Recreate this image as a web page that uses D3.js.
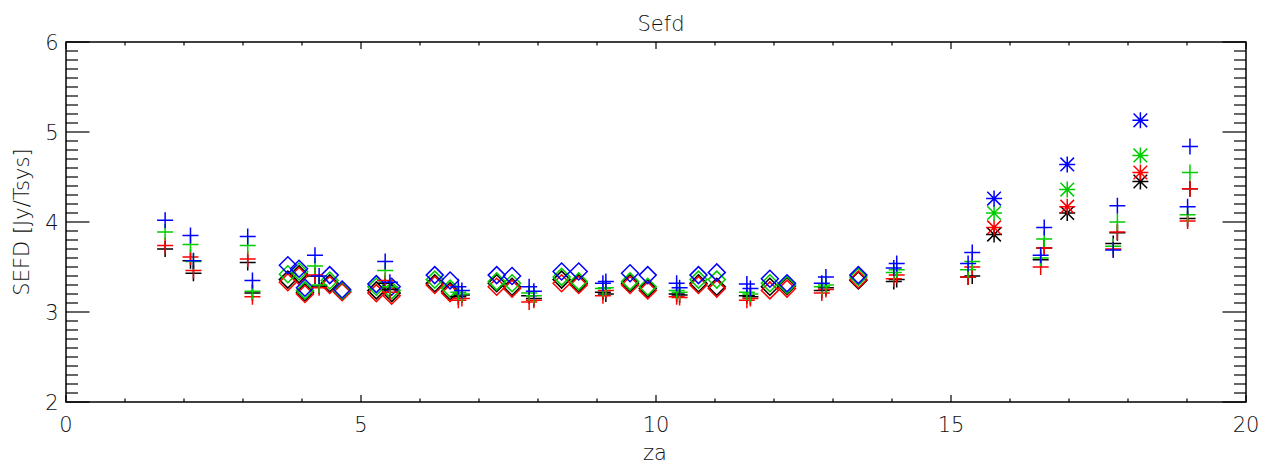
<!DOCTYPE html>
<meta charset="utf-8">
<style>
  body { margin: 0; background: #fff; }
  text { font-family: "DejaVu Sans", sans-serif; fill: #111; font-weight: 300; }
</style>
<svg width="1272" height="466"></svg>
<script src="https://d3js.org/d3.v7.min.js"></script>
<script>

// plus symbols (za, then one value per colour)
var plusZa    = [1.68, 2.11, 2.16, 3.08, 3.16, 4.22, 4.29, 5.41, 5.49, 6.65, 6.71, 7.85, 7.93, 9.10, 9.15, 10.35, 10.40, 11.54, 11.60, 12.81, 12.88, 14.03, 14.08, 15.29, 15.36, 16.52, 16.58, 17.75, 17.82, 19.01, 19.05];
var plusBlack = [3.70, 3.57, 3.43, 3.55, 3.21, 3.40, 3.29, 3.32, 3.25, 3.17, 3.19, 3.18, 3.15, 3.22, 3.20, 3.20, 3.19, 3.18, 3.17, 3.24, 3.27, 3.34, 3.36, 3.39, 3.40, 3.58, 3.71, 3.76, 3.88, 4.04, 4.37];
var plusRed   = [3.74, 3.61, 3.46, 3.59, 3.17, 3.41, 3.27, 3.35, 3.22, 3.13, 3.15, 3.11, 3.13, 3.18, 3.24, 3.17, 3.16, 3.13, 3.15, 3.21, 3.25, 3.37, 3.41, 3.39, 3.50, 3.50, 3.71, 3.70, 3.89, 4.01, 4.37];
var plusGreen = [3.89, 3.75, 3.56, 3.74, 3.23, 3.51, 3.30, 3.46, 3.28, 3.22, 3.20, 3.21, 3.18, 3.26, 3.27, 3.24, 3.22, 3.22, 3.20, 3.28, 3.30, 3.44, 3.47, 3.47, 3.56, 3.60, 3.81, 3.73, 4.00, 4.08, 4.55];
var plusBlue  = [4.02, 3.85, 3.57, 3.84, 3.35, 3.63, 3.40, 3.56, 3.33, 3.28, 3.24, 3.28, 3.23, 3.32, 3.34, 3.32, 3.27, 3.31, 3.26, 3.32, 3.39, 3.49, 3.54, 3.54, 3.66, 3.63, 3.94, 3.69, 4.18, 4.17, 4.84];

// diamond symbols
var diaZa    = [3.76, 3.95, 4.05, 4.47, 4.68, 5.26, 5.52, 6.25, 6.51, 7.30, 7.56, 8.40, 8.69, 9.56, 9.86, 10.72, 11.03, 11.93, 12.22, 13.43];
var diaBlack = [3.36, 3.42, 3.22, 3.32, 3.23, 3.24, 3.21, 3.32, 3.23, 3.32, 3.28, 3.36, 3.32, 3.32, 3.26, 3.32, 3.28, 3.28, 3.29, 3.35];
var diaRed   = [3.33, 3.40, 3.20, 3.30, 3.22, 3.21, 3.18, 3.30, 3.21, 3.28, 3.26, 3.32, 3.30, 3.30, 3.24, 3.30, 3.26, 3.24, 3.26, 3.36];
var diaGreen = [3.42, 3.45, 3.24, 3.35, 3.24, 3.28, 3.24, 3.36, 3.26, 3.34, 3.32, 3.39, 3.34, 3.34, 3.28, 3.36, 3.36, 3.32, 3.30, 3.39];
var diaBlue  = [3.52, 3.48, 3.27, 3.41, 3.25, 3.31, 3.28, 3.41, 3.35, 3.41, 3.40, 3.45, 3.45, 3.43, 3.41, 3.41, 3.44, 3.37, 3.32, 3.41];

// asterisk symbols
var astZa    = [15.73, 16.97, 18.21];
var astBlack = [3.86, 4.10, 4.45];
var astRed   = [3.94, 4.17, 4.55];
var astGreen = [4.10, 4.36, 4.74];
var astBlue  = [4.26, 4.64, 5.13];

var xTicks = [0, 5, 10, 15, 20];
var yTicks = [2, 3, 4, 5, 6];

var svg = d3.select("svg");
var pl = 66, pr = 1246, pt = 42, pb = 402;

var x = d3.scaleLinear().domain([0, 20]).range([pl, pr]);
var y = d3.scaleLinear().domain([2, 6]).range([pb, pt]);

var colors = ["#000000", "#ff0000", "#00cc00", "#0000ff"];

// frame
svg.append("rect")
	.attr("x", pl).attr("y", pt)
	.attr("width", pr - pl).attr("height", pb - pt)
	.attr("fill", "none").attr("stroke", "#000").attr("stroke-width", 1.5);

// ticks, all pointing inwards
var g = svg.append("g").attr("stroke", "#000").attr("stroke-width", 1.2);
d3.range(0, 21, 1).forEach(function(v) {
	var len = (v % 5 === 0) ? 7 : 3.6;
	g.append("line").attr("x1", x(v)).attr("x2", x(v)).attr("y1", pb).attr("y2", pb - len);
	g.append("line").attr("x1", x(v)).attr("x2", x(v)).attr("y1", pt).attr("y2", pt + len);
});
d3.range(20, 61, 1).forEach(function(i) {
	var v = i / 10;
	var len = (i % 10 === 0) ? 23.5 : 12;
	g.append("line").attr("y1", y(v)).attr("y2", y(v)).attr("x1", pl).attr("x2", pl + len);
	g.append("line").attr("y1", y(v)).attr("y2", y(v)).attr("x1", pr).attr("x2", pr - len);
});

svg.selectAll(".xl").data(xTicks).enter().append("text")
	.attr("x", function(d) { return x(d); }).attr("y", 432)
	.attr("text-anchor", "middle").attr("font-size", 21)
	.text(function(d) { return d; });
svg.selectAll(".yl").data(yTicks).enter().append("text")
	.attr("x", 52).attr("y", function(d) { return y(d) + 8; })
	.attr("text-anchor", "middle").attr("font-size", 21)
	.text(function(d) { return d; });

svg.append("text").attr("x", 661).attr("y", 31).attr("text-anchor", "middle")
	.attr("font-size", 21).text("Sefd");
svg.append("text").attr("x", 655).attr("y", 460).attr("text-anchor", "middle")
	.attr("font-size", 21).text("za");
svg.append("text").attr("transform", "translate(29,222) rotate(-90)")
	.attr("text-anchor", "middle").attr("font-size", 21).text("SEFD [Jy/Tsys]");

// symbol shapes
var s = 8;
function plus(cx, cy) { return "M" + (cx - s) + "," + cy + "H" + (cx + s) + "M" + cx + "," + (cy - s) + "V" + (cy + s); }
function diamond(cx, cy) { var r = 8.5; return "M" + cx + "," + (cy - r) + "L" + (cx + r) + "," + cy + "L" + cx + "," + (cy + r) + "L" + (cx - r) + "," + cy + "Z"; }
function aster(cx, cy) {
	var d = s * 0.85;
	return plus(cx, cy) + "M" + (cx - d) + "," + (cy - d) + "L" + (cx + d) + "," + (cy + d) +
		"M" + (cx - d) + "," + (cy + d) + "L" + (cx + d) + "," + (cy - d);
}

function draw(za, series, shape) {
	series.forEach(function(vals, k) {
		svg.append("g").selectAll("path").data(za).enter().append("path")
			.attr("d", function(d, i) { return shape(x(d), y(vals[i])); })
			.attr("fill", "none").attr("stroke", colors[k]).attr("stroke-width", 1.5);
	});
}

draw(diaZa, [diaBlack, diaRed, diaGreen, diaBlue], diamond);
draw(plusZa, [plusBlack, plusRed, plusGreen, plusBlue], plus);
draw(astZa, [astBlack, astRed, astGreen, astBlue], aster);

</script>
